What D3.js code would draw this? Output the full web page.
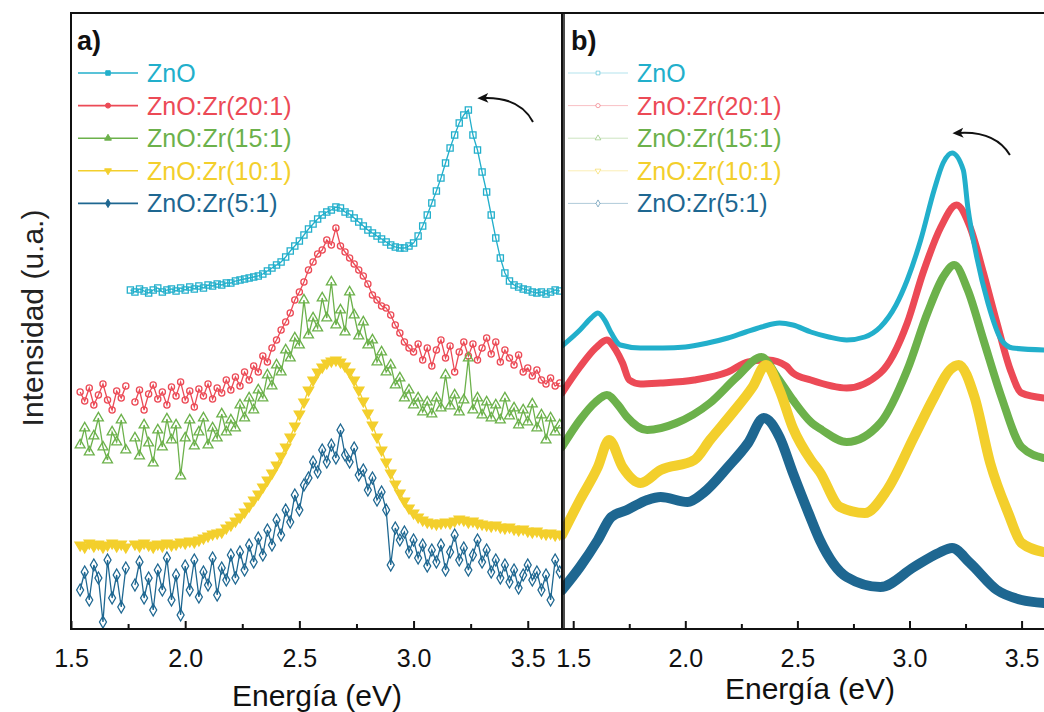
<!DOCTYPE html>
<html>
<head>
<meta charset="utf-8">
<script src="https://cdn.jsdelivr.net/npm/d3@7"></script>
<style>
  body { margin: 0; background: #fff; }
  svg { display: block; font-family: "Liberation Sans", Arial, sans-serif; }
</style>
</head>
<body>
<div id="canvas"></div>
<script>
"use strict"

/* ---- data ---- */

let seriesNames = ["ZnO", "ZnO:Zr(20:1)", "ZnO:Zr(15:1)", "ZnO:Zr(10:1)", "ZnO:Zr(5:1)"];
let seriesColors = ["#22afcb", "#ec4a56", "#6cb14b", "#f3cf2c", "#1e6791"];

// panel a: one reading every 0.02 eV from 1.54 to 3.64 eV (null = no reading)
let energyA = d3.range(154, 365, 2).map(function(d) { return d / 100; });

let znoA = [null, null, null, null, null, null, null, null, null, null, null,
    410, 408, 411, 409, 407, 410, 412, 408, 410, 411,
    409, 412, 410, 413, 411, 414, 412, 415, 414, 416,
    415, 417, 417, 419, 420, 421, 422, 423, 424, 426,
    429, 432, 435, 438, 443, 449, 454, 459, 465, 471,
    476, 481, 485, 488, 490, 493, 492, 488, 486, 482,
    478, 474, 470, 467, 464, 461, 458, 455, 453, 452,
    452, 454, 457, 464, 474, 485, 497, 509, 522, 537,
    552, 565, 577, 585, 590, 565, 550, 528, 508, 485,
    462, 442, 427, 419, 415, 413, 411, 410, 408, 407,
    408, 406, 408, 410, 409];

let zr20A = [308, 299, 312, 295, 305, 316, 300, 290, 309, 302,
    314, null, 298, 310, 290, 306, 315, 301, 308, 295,
    313, 304, 318, 300, 309, 293, 311, 304, 316, 301,
    312, 307, 320, 310, 323, 314, 328, 320, 334, 328,
    344, 338, 352, 360, 370, 378, 387, 400, 408, 418,
    430, 438, 446, 450, 460, 455, 472, 454, 448, 442,
    436, 430, 424, 416, 405, 400, 394, 392, 385, 375,
    367, 358, 352, 348, 356, 340, 352, 334, 350, 360,
    342, 354, 328, 348, 358, 344, 356, 340, 352, 362,
    346, 358, 338, 350, 342, 335, 345, 328, 332, 324,
    330, 320, 316, 322, 314, 317];

let zr15A = [255, 272, 248, 264, 282, 253, 240, 268, 258, 280,
    250, null, 262, 244, 275, 257, 237, 270, 253, 281,
    260, 275, 224, 262, 280, 254, 268, 282, 255, 272,
    262, 286, 268, 280, 272, 295, 282, 302, 290, 310,
    302, 325, 314, 335, 328, 350, 342, 362, 355, 400,
    365, 382, 372, 402, 382, 418, 375, 390, 368, 408,
    385, 364, 378, 355, 360, 338, 348, 328, 335, 315,
    322, 302, 310, 295, 302, 288, 298, 286, 302, 292,
    325, 294, 305, 288, 300, 342, 290, 302, 285, 298,
    282, 295, 280, 302, 284, 292, 275, 290, 278, 296,
    272, 285, 260, 282, 268, 275];

let zr10A = [155, 153, 157, 154, 156, 153, 155, 157, 154, 156,
    153, null, 156, 154, 157, 155, 153, 156, 154, 157,
    155, 156, 158, 157, 159, 158, 160, 162, 164, 166,
    167, 168, 172, 175, 179, 183, 188, 194, 200, 206,
    213, 220, 227, 235, 244, 253, 263, 274, 286, 298,
    310, 320, 328, 333, 337, 339, 340, 338, 334, 328,
    320, 310, 299, 287, 275, 263, 250, 238, 227, 216,
    207, 199, 192, 187, 183, 180, 178, 177, 176, 177,
    178, 177, 179, 181, 180, 178, 179, 177, 176, 175,
    174, 175, 173, 172, 173, 171, 170, 171, 169, 168,
    169, 167, 166, 167, 165, 166];

let zr5A = [110, 128, 100, 135, 122, 78, 140, 102, 125, 93,
    132, null, 115, 138, 102, 122, 90, 130, 110, 142,
    100, 125, 85, 134, 110, 140, 103, 128, 115, 142,
    105, 132, 120, 145, 122, 148, 130, 155, 138, 162,
    145, 170, 155, 180, 165, 190, 178, 205, 190, 215,
    222, 238, 228, 250, 238, 255, 242, 270, 245, 238,
    252, 225, 230, 210, 222, 200, 208, 190, 135, 172,
    160, 168, 148, 160, 142, 155, 134, 150, 138, 155,
    130, 148, 165, 140, 152, 130, 145, 160, 138, 150,
    128, 140, 122, 135, 118, 130, 112, 125, 135, 120,
    128, 110, 125, 100, 140, 128];

// panel b: [energy (eV), intensity (u.a.)] readings
let znoB = [[1.45, 354], [1.53, 370], [1.58, 382], [1.61, 387], [1.64, 380], [1.67, 367],
    [1.71, 355], [1.80, 352], [1.90, 352], [2.00, 353], [2.10, 357], [2.19, 362],
    [2.27, 368], [2.34, 373], [2.42, 377], [2.48, 375], [2.56, 368], [2.64, 363],
    [2.72, 360], [2.80, 363], [2.87, 373], [2.94, 395], [2.99, 420], [3.05, 460],
    [3.11, 510], [3.15, 537], [3.19, 547], [3.24, 530], [3.26, 493], [3.30, 443],
    [3.35, 397], [3.41, 360], [3.46, 352], [3.60, 350]];
let zr20B = [[1.45, 307], [1.53, 333], [1.60, 352], [1.65, 360], [1.69, 350], [1.72, 337],
    [1.75, 320], [1.80, 316], [1.89, 317], [2.04, 320], [2.19, 328], [2.28, 338],
    [2.37, 340], [2.45, 334], [2.48, 327], [2.56, 320], [2.72, 312], [2.87, 327],
    [2.99, 377], [3.06, 427], [3.14, 473], [3.21, 495], [3.27, 473], [3.33, 427],
    [3.39, 377], [3.45, 330], [3.50, 307], [3.60, 302]];
let zr15B = [[1.45, 253], [1.53, 280], [1.60, 298], [1.65, 305], [1.70, 295], [1.74, 283],
    [1.83, 270], [1.96, 277], [2.11, 297], [2.23, 323], [2.34, 343], [2.41, 323],
    [2.48, 300], [2.56, 278], [2.61, 270], [2.72, 258], [2.87, 277], [2.99, 330],
    [3.08, 387], [3.15, 423], [3.20, 435], [3.26, 410], [3.33, 360], [3.41, 303],
    [3.50, 253], [3.60, 242]];
let zr10B = [[1.45, 165], [1.53, 200], [1.61, 233], [1.66, 260], [1.72, 233], [1.80, 217],
    [1.89, 230], [2.04, 240], [2.11, 260], [2.21, 287], [2.30, 313], [2.36, 335],
    [2.42, 310], [2.48, 272], [2.56, 240], [2.60, 228], [2.69, 193], [2.80, 187],
    [2.90, 210], [3.02, 263], [3.11, 303], [3.18, 330], [3.22, 335], [3.29, 303],
    [3.36, 237], [3.44, 187], [3.50, 157], [3.60, 148]];
let zr5B = [[1.45, 110], [1.53, 133], [1.61, 160], [1.67, 183], [1.74, 190], [1.83, 200],
    [1.89, 203], [2.01, 198], [2.08, 207], [2.19, 233], [2.28, 257], [2.35, 282],
    [2.42, 263], [2.48, 227], [2.55, 187], [2.60, 160], [2.72, 123], [2.87, 113],
    [3.02, 133], [3.13, 147], [3.19, 152], [3.27, 137], [3.39, 110], [3.50, 100],
    [3.60, 97]];

let majorTicks = [1.5, 2.0, 2.5, 3.0, 3.5];
let minorTicks = [1.75, 2.25, 2.75, 3.25];

let seriesA = [znoA, zr20A, zr15A, zr10A, zr5A];
let seriesB = [znoB, zr20B, zr15B, zr10B, zr5B];

/* ---- layout ---- */
let svgWidth = 1044;
let svgHeight = 712;
let plotTop = 13;
let plotBottom = 629;

let xA = d3.scaleLinear().domain([1.5, 3.65]).range([71, 562]);
let xB = d3.scaleLinear().domain([1.45, 3.6]).range([562, 1044]);
let yScale = d3.scaleLinear().domain([71, 687]).range([plotBottom, plotTop]);

let symbolTypes = [d3.symbolSquare, d3.symbolCircle, d3.symbolTriangle, d3.symbolTriangle, d3.symbolDiamond];
let symbolRotate = [0, 0, 0, 180, 0];
let symbolSizes = [38, 30, 42, 46, 42];

let svg = d3.select("#canvas").append("svg")
    .attr("width", svgWidth)
    .attr("height", svgHeight);

svg.append("rect").attr("width", svgWidth).attr("height", svgHeight).attr("fill", "white");

let defs = svg.append("defs");
defs.append("clipPath").attr("id", "clipA").append("rect")
    .attr("x", 72).attr("y", plotTop + 1).attr("width", 489).attr("height", plotBottom - plotTop - 2);
defs.append("clipPath").attr("id", "clipB").append("rect")
    .attr("x", 563).attr("y", plotTop + 1).attr("width", 490).attr("height", plotBottom - plotTop - 2);
defs.append("marker")
    .attr("id", "arrowhead")
    .attr("viewBox", "0 0 10 10")
    .attr("refX", 4).attr("refY", 5)
    .attr("markerUnits", "userSpaceOnUse")
    .attr("markerWidth", 13).attr("markerHeight", 11)
    .attr("orient", "auto")
    .append("path")
    .attr("d", "M0,0.5 L10,5 L0,9.5 L2.5,5 Z")
    .attr("fill", "#111");

/* ---- panel a: lines with hollow markers ---- */
function drawPanelA() {
    let g = svg.append("g").attr("clip-path", "url(#clipA)");
    for (let s = 0; s < seriesA.length; s++) {
        let pts = [];
        for (let i = 0; i < energyA.length; i++) {
            pts.push([energyA[i], seriesA[s][i]]);
        }
        let line = d3.line()
            .defined(function(d) { return d[1] !== null && d[1] !== undefined; })
            .x(function(d) { return xA(d[0]); })
            .y(function(d) { return yScale(d[1]); });

        g.append("path")
            .datum(pts)
            .attr("d", line)
            .attr("fill", "none")
            .attr("stroke", seriesColors[s])
            .attr("stroke-width", 1.3);

        let sym = d3.symbol().type(symbolTypes[s]).size(symbolSizes[s]);
        g.selectAll(null)
            .data(pts.filter(function(d) { return d[1] !== null && d[1] !== undefined; }))
            .join("path")
            .attr("transform", function(d) {
                return "translate(" + xA(d[0]) + "," + yScale(d[1]) + ") rotate(" + symbolRotate[s] + ")";
            })
            .attr("d", sym)
            .attr("fill", s === 3 ? seriesColors[s] : "none")
            .attr("stroke", seriesColors[s])
            .attr("stroke-width", 1.3);
    }
}

/* ---- panel b: dense thick traces ---- */
function drawPanelB() {
    let g = svg.append("g").attr("clip-path", "url(#clipB)");
    let widths = [5, 7, 8, 10, 10];
    let order = [1, 2, 3, 4, 0];
    for (let k = 0; k < order.length; k++) {
        let s = order[k];
        let line = d3.line()
            .curve(d3.curveMonotoneX)
            .x(function(d) { return xB(d[0]); })
            .y(function(d) { return yScale(d[1]); });
        g.append("path")
            .datum(seriesB[s])
            .attr("d", line)
            .attr("fill", "none")
            .attr("stroke", seriesColors[s])
            .attr("stroke-width", widths[s])
            .attr("stroke-linejoin", "round")
            .attr("stroke-linecap", "round");
    }
}

/* ---- axes and frame ---- */
function drawAxis(scale) {
    let major = svg.append("g")
        .attr("transform", "translate(0," + plotBottom + ")")
        .call(d3.axisBottom(scale)
            .tickValues(majorTicks)
            .tickFormat(d3.format(".1f"))
            .tickSizeInner(-8)
            .tickSizeOuter(0)
            .tickPadding(20));
    major.select(".domain").remove();
    major.selectAll("line").attr("stroke", "#111").attr("stroke-width", 2);
    major.selectAll("text")
        .attr("fill", "#111")
        .style("font-size", "25px")
        .style("font-family", "\"Liberation Sans\", Arial, sans-serif");

    let minor = svg.append("g")
        .attr("transform", "translate(0," + plotBottom + ")")
        .call(d3.axisBottom(scale)
            .tickValues(minorTicks)
            .tickFormat("")
            .tickSizeInner(-5)
            .tickSizeOuter(0));
    minor.select(".domain").remove();
    minor.selectAll("line").attr("stroke", "#111").attr("stroke-width", 2);
}

function drawFrame() {
    svg.append("rect")
        .attr("x", 71).attr("y", plotTop)
        .attr("width", 491).attr("height", plotBottom - plotTop)
        .attr("fill", "none").attr("stroke", "#111").attr("stroke-width", 2);
    svg.append("line").attr("x1", 562).attr("x2", svgWidth).attr("y1", plotTop).attr("y2", plotTop)
        .attr("stroke", "#111").attr("stroke-width", 2);
    svg.append("line").attr("x1", 562).attr("x2", svgWidth).attr("y1", plotBottom).attr("y2", plotBottom)
        .attr("stroke", "#111").attr("stroke-width", 2);
    svg.append("line").attr("x1", 564).attr("x2", 564).attr("y1", plotTop).attr("y2", plotBottom)
        .attr("stroke", "#111").attr("stroke-width", 1.5);
}

/* ---- legends ---- */
function drawLegend(lineX0, textX, faint) {
    for (let i = 0; i < seriesNames.length; i++) {
        let ly = 73 + i * 32.6;
        svg.append("line")
            .attr("x1", lineX0).attr("x2", lineX0 + 60)
            .attr("y1", ly).attr("y2", ly)
            .attr("stroke", seriesColors[i])
            .attr("stroke-opacity", faint ? 0.35 : 1)
            .attr("stroke-width", faint ? 1 : 1.6);
        svg.append("path")
            .attr("transform", "translate(" + (lineX0 + 30) + "," + ly + ") rotate(" + symbolRotate[i] + ")")
            .attr("d", d3.symbol().type(symbolTypes[i]).size(faint ? 14 : 20))
            .attr("fill", faint ? "white" : seriesColors[i])
            .attr("stroke", seriesColors[i])
            .attr("stroke-opacity", faint ? 0.5 : 1)
            .attr("stroke-width", 1);
        svg.append("text")
            .attr("x", textX).attr("y", ly + 9)
            .attr("fill", seriesColors[i])
            .style("font-size", "25px")
            .text(seriesNames[i]);
    }
}

function drawLabels() {
    svg.append("text").attr("x", 77).attr("y", 50)
        .style("font-size", "27px").style("font-weight", "bold").attr("fill", "#111").text("a)");
    svg.append("text").attr("x", 571).attr("y", 50)
        .style("font-size", "27px").style("font-weight", "bold").attr("fill", "#111").text("b)");

    svg.append("text").attr("x", 317).attr("y", 706)
        .attr("text-anchor", "middle").style("font-size", "30px").attr("fill", "#111")
        .text("Energía (eV)");
    svg.append("text").attr("x", 810).attr("y", 699)
        .attr("text-anchor", "middle").style("font-size", "30px").attr("fill", "#111")
        .text("Energía (eV)");

    svg.append("text")
        .attr("transform", "translate(43,318) rotate(-90)")
        .attr("text-anchor", "middle").style("font-size", "30px").attr("fill", "#222")
        .text("Intensidad (u.a.)");
}

// curved arrows pointing at the band-edge peak shift, in data units
let arrowA = [[3.523, 578], [3.466, 603], [3.308, 602]];
let arrowB = [[3.448, 545], [3.382, 569], [3.221, 567]];

function drawArrow(pts, xs) {
    let p = d3.path();
    p.moveTo(xs(pts[0][0]), yScale(pts[0][1]));
    p.quadraticCurveTo(xs(pts[1][0]), yScale(pts[1][1]), xs(pts[2][0]), yScale(pts[2][1]));
    svg.append("path")
        .attr("d", p.toString())
        .attr("fill", "none")
        .attr("stroke", "#111")
        .attr("stroke-width", 2)
        .attr("marker-end", "url(#arrowhead)");
}

drawPanelA();
drawPanelB();
drawFrame();
drawAxis(xA);
drawAxis(xB);
drawLegend(78, 147, false);
drawLegend(568, 637, true);
drawLabels();
drawArrow(arrowA, xA);
drawArrow(arrowB, xB);
</script>
</body>
</html>
